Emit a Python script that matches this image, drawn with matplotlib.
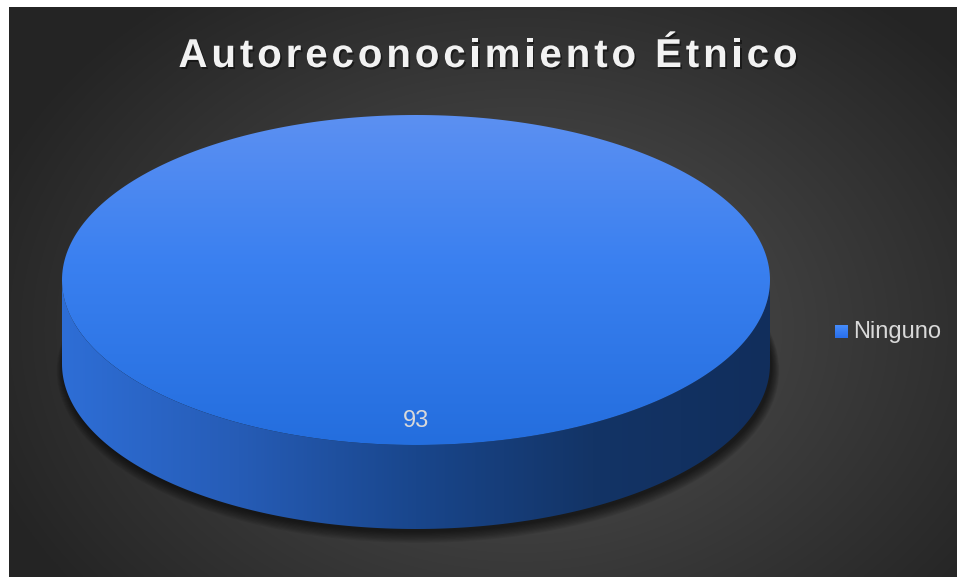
import numpy as np
import matplotlib
matplotlib.use("Agg")
import matplotlib.pyplot as plt
from matplotlib.patches import Polygon, Rectangle, Ellipse
from matplotlib import patheffects
from matplotlib import font_manager
from matplotlib.ft2font import FT2Font

# Datos
categorias = ["Ninguno"]
valores = [93]
titulo = "Autoreconocimiento Étnico"

W, H = 957, 577
fig = plt.figure(figsize=(W / 100, H / 100), dpi=100)
fig.patch.set_facecolor("white")
ax = fig.add_axes([0, 0, 1, 1])
ax.set_xlim(0, W)
ax.set_ylim(H, 0)
ax.axis("off")

# Fondo con degradado radial
x0, y0 = 9, 7
gx, gy = np.meshgrid(np.linspace(x0, W, 400), np.linspace(y0, H, 250))
d = np.sqrt(((gx - 520) / 560) ** 2 + ((gy - 330) / 420) ** 2)
d = np.clip(d, 0, 1)
c_in, c_out = np.array([0.33, 0.33, 0.33]), np.array([0.145, 0.145, 0.145])
bg = c_in[None, None, :] * (1 - d[..., None]) + c_out[None, None, :] * d[..., None]
ax.imshow(bg, extent=(x0, W, H, y0), aspect="auto", zorder=0, interpolation="bilinear")

# Geometria del pastel 3D
cx, cy, a, b, prof = 416, 280, 354, 165, 84


def grad(stops, n=300):
    pos = np.array([s[0] for s in stops])
    cols = np.array([s[1] for s in stops]) / 255.0
    t = np.linspace(0, 1, n)
    return np.stack([np.interp(t, pos, cols[:, k]) for k in range(3)], axis=-1)


# Sombra bajo el pastel
for k in range(10):
    e = Ellipse((cx + 2, cy + prof + 3 + k * 0.4), 2 * (a + k * 0.8), 2 * (b + k * 0.8),
                facecolor="black", edgecolor="none", alpha=0.07, zorder=1)
    ax.add_patch(e)

# Lateral (mitad frontal)
t = np.linspace(0, np.pi, 200)
arriba = np.column_stack([cx + a * np.cos(t), cy + b * np.sin(t)])
abajo = np.column_stack([cx + a * np.cos(t[::-1]), cy + prof + b * np.sin(t[::-1])])
lado = Polygon(np.vstack([arriba, abajo]), closed=True, facecolor="none", edgecolor="none", zorder=2)
ax.add_patch(lado)
g_lado = grad([(0, (46, 110, 214)), (0.25, (38, 92, 182)), (0.5, (25, 70, 140)),
               (0.75, (19, 52, 102)), (1, (17, 46, 92))])
im = ax.imshow(g_lado[None, :, :], extent=(cx - a, cx + a, cy + prof + b, cy),
               aspect="auto", zorder=2, interpolation="bilinear")
im.set_clip_path(lado)

# Cara superior: una porcion por valor
total = sum(valores)
inicio = 90.0
g_top = grad([(0, (92, 144, 242)), (0.45, (58, 128, 240)), (1, (36, 110, 222))])
for i, v in enumerate(valores):
    ang = 360.0 * v / total
    th = np.radians(np.linspace(inicio, inicio - ang, 300))
    pts = np.column_stack([cx + a * np.cos(th), cy - b * np.sin(th)])
    if ang < 360:
        pts = np.vstack([[cx, cy], pts])
    tapa = Polygon(pts, closed=True, facecolor="none", edgecolor="none", zorder=3)
    ax.add_patch(tapa)
    im2 = ax.imshow(g_top[:, None, :], extent=(cx - a, cx + a, cy + b, cy - b),
                    aspect="auto", zorder=3, interpolation="bilinear")
    im2.set_clip_path(tapa)
    # Etiqueta de datos
    medio = np.radians(inicio - ang / 2)
    ax.text(cx + 0.85 * a * np.cos(medio), cy - 0.85 * b * np.sin(medio) + 1, str(v),
            ha="center", va="center", fontsize=17, color="#d9d9d9",
            family="Liberation Sans", zorder=5)
    inicio -= ang

# Leyenda
g_ley = grad([(0, (70, 140, 250)), (1, (40, 110, 235))])
for i, cat in enumerate(categorias):
    marca = Rectangle((835, 325 + i * 28), 13, 13, facecolor="none", edgecolor="none", zorder=5)
    ax.add_patch(marca)
    im3 = ax.imshow(g_ley[:, None, :], extent=(835, 848, 338 + i * 28, 325 + i * 28),
                    aspect="auto", zorder=5)
    im3.set_clip_path(marca)
    ax.text(853, 332 + i * 28, cat, ha="left", va="center", fontsize=17,
            color="#d9d9d9", family="Liberation Sans", zorder=5)

# Titulo con espaciado entre letras
fpath = font_manager.findfont(font_manager.FontProperties(family="Liberation Sans", weight="bold"))
ft = FT2Font(fpath)
tsize = 29
ft.set_size(tsize, 100)
esp = 3.9
avances = [ft.load_char(ord(ch)).linearHoriAdvance / 65536.0 for ch in titulo]
ancho = sum(avances) + esp * (len(titulo) - 1)
xt = 488 - ancho / 2
sombra = [patheffects.withSimplePatchShadow(offset=(1.2, -1.5), shadow_rgbFace="black", alpha=0.45)]
for ch, av in zip(titulo, avances):
    ax.text(xt, 67, ch, ha="left", va="baseline", fontsize=tsize, fontweight="bold",
            color="#f2f2f2", family="Liberation Sans", zorder=6, path_effects=sombra)
    xt += av + esp

fig.savefig("out.png", dpi=100)
